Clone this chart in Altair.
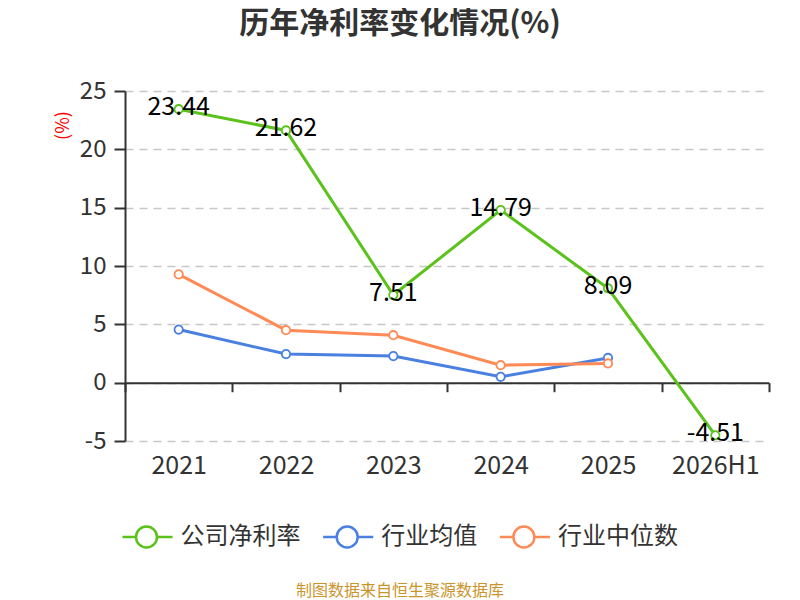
import altair as alt
import pandas as pd

categories = ["2021", "2022", "2023", "2024", "2025", "2026H1"]
company = [23.44, 21.62, 7.51, 14.79, 8.09, -4.51]
industry_avg = [4.55, 2.45, 2.28, 0.5, 2.12]
industry_median = [9.28, 4.5, 4.07, 1.5, 1.65]
series_names = ["公司净利率", "行业均值", "行业中位数"]
series_colors = ["#5ac21a", "#4a80e0", "#ff8a56"]
title_text = "历年净利率变化情况(%)"
source_text = "制图数据来自恒生聚源数据库"
FONT = "Noto Sans CJK SC"

rows = []
for c, v in zip(categories, company):
    rows.append({"cat": c, "val": v, "series": series_names[0], "lab": f"{v:.2f}"})
for c, v in zip(categories, industry_avg):
    rows.append({"cat": c, "val": v, "series": series_names[1], "lab": f"{v:.2f}"})
for c, v in zip(categories, industry_median):
    rows.append({"cat": c, "val": v, "series": series_names[2], "lab": f"{v:.2f}"})
df = pd.DataFrame(rows)

color_scale = alt.Scale(domain=series_names, range=series_colors)
x_enc = alt.X("cat:N", sort=categories, scale=alt.Scale(domain=categories, paddingInner=0, paddingOuter=0),
              axis=alt.Axis(title=None, offset=-58.3, tickBand="extent", tickSize=9, tickWidth=2,
                            domainWidth=2, domainColor="#333", tickColor="#333",
                            labelPadding=62, labelFontSize=25, labelColor="#333", labelFont=FONT,
                            labelAngle=0, grid=False))
y_enc = alt.Y("val:Q", scale=alt.Scale(domain=[-5, 25], nice=False, zero=False),
              axis=alt.Axis(values=[-5, 0, 5, 10, 15, 20, 25], title="(%)", titleColor="red",
                            titleFont=FONT, titleFontSize=18, titleFontWeight="normal",
                            titleAngle=270, titleX=-62, titleY=34, titleAlign="center",
                            titleBaseline="middle", labelExpr="'' + datum.value",
                            labelFontSize=24, labelColor="#333", labelFont=FONT, labelPadding=8,
                            tickSize=11, tickWidth=2, tickColor="#333", domainColor="#333",
                            domainWidth=2, grid=True, gridDash=[8, 6], gridColor="#c8c8c8",
                            gridWidth=1.5))

base = alt.Chart(df)

lines = base.mark_line(strokeWidth=3).encode(
    x=x_enc, y=y_enc,
    color=alt.Color("series:N", scale=color_scale, sort=series_names,
                    legend=alt.Legend(title=None, orient="none", direction="horizontal",
                                      legendX=9.5, legendY=433.7, padding=0,
                                      symbolType="M-2.29,0L-1,0M1,0L2.48,0M1,0A1,1,0,1,1,-1,0A1,1,0,1,1,1,0",
                                      symbolSize=441, symbolStrokeWidth=2.5, symbolFillColor="white",
                                      labelFontSize=24, labelFont=FONT, labelColor="#333",
                                      labelOffset=22, columnPadding=16.7)),
    detail="series:N",
)

points = base.mark_point(filled=True, fill="white", size=70, strokeWidth=1.8, opacity=1).encode(
    x=alt.X("cat:N", sort=categories), y="val:Q",
    stroke=alt.Stroke("series:N", scale=color_scale, legend=None),
)

labels = alt.Chart(df[df["series"] == series_names[0]]).mark_text(
    fontSize=25, font=FONT, color="black", baseline="middle", dy=-2
).encode(x=alt.X("cat:N", sort=categories), y="val:Q", text="lab:N")

title = alt.Chart(pd.DataFrame({"t": [title_text]})).mark_text(
    fontSize=30, font=FONT, fontWeight="bold", color="#333", baseline="middle", align="center"
).encode(x=alt.value(275), y=alt.value(-67), text="t:N")

source = alt.Chart(pd.DataFrame({"t": [source_text]})).mark_text(
    fontSize=16, font=FONT, color="#c9952c", baseline="middle", align="center"
).encode(x=alt.value(275), y=alt.value(500), text="t:N")

chart = alt.layer(lines, points, labels, title, source).properties(
    width=644, height=350,
    autosize=alt.AutoSizeParams(type="none"),
    padding={"left": 117, "top": 83, "right": 23, "bottom": 160},
).configure(background="white", view=alt.ViewConfig(stroke=None))

chart.save("out.html", embed_options={"renderer": "svg", "actions": False})
